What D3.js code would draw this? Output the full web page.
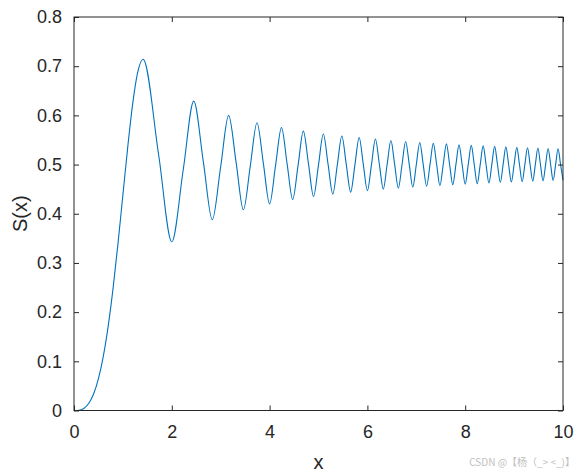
<!DOCTYPE html>
<html><head><meta charset="utf-8">
<script src="https://cdn.jsdelivr.net/npm/d3@7"></script>
<style>body{margin:0;background:#fff}svg{display:block}</style>
</head><body>
<script>
// Rising part of S(x)
const riseX = [0, 0.1, 0.2, 0.3, 0.4, 0.5, 0.6, 0.7, 0.8, 0.9, 1.0, 1.1, 1.2, 1.3];
const riseY = [0, 0.0005, 0.0042, 0.0141, 0.0334, 0.0647, 0.1105, 0.1721, 0.2493, 0.3398, 0.4383, 0.5365, 0.6234, 0.6863];
// Extrema (peaks and troughs) of S(x)
const extX = [1.414, 2.000, 2.449, 2.828, 3.162, 3.464, 3.742, 4.000, 4.243, 4.472,
  4.690, 4.899, 5.099, 5.292, 5.477, 5.657, 5.831, 6.000, 6.164, 6.325,
  6.481, 6.633, 6.782, 6.928, 7.071, 7.211, 7.348, 7.483, 7.616, 7.746,
  7.874, 8.000, 8.124, 8.246, 8.367, 8.485, 8.602, 8.718, 8.832, 8.944,
  9.055, 9.165, 9.274, 9.381, 9.487, 9.592, 9.695, 9.798, 9.899, 10.000];
const extY = [0.714, 0.343, 0.629, 0.388, 0.600, 0.408, 0.585, 0.420, 0.575, 0.429,
  0.568, 0.435, 0.562, 0.440, 0.558, 0.444, 0.555, 0.447, 0.552, 0.450,
  0.549, 0.452, 0.547, 0.454, 0.545, 0.456, 0.543, 0.457, 0.542, 0.459,
  0.540, 0.460, 0.539, 0.461, 0.538, 0.4625, 0.537, 0.4635, 0.536, 0.4644,
  0.535, 0.4653, 0.5343, 0.4661, 0.5336, 0.4668, 0.5328, 0.4675, 0.5322, 0.4682];
// Crossing points between extrema
const midX = [1.732, 2.236, 2.646, 3.000, 3.317, 3.606, 3.873, 4.123, 4.359, 4.583,
  4.796, 5.000, 5.196, 5.385, 5.568, 5.745, 5.916, 6.083, 6.245, 6.403,
  6.557, 6.708, 6.856, 7.000, 7.141, 7.280, 7.416, 7.550, 7.681, 7.810,
  7.937, 8.062, 8.185, 8.307, 8.426, 8.544, 8.660, 8.775, 8.888, 9.000,
  9.110, 9.220, 9.327, 9.434, 9.539, 9.644, 9.747, 9.849, 9.950];
const midY = [0.519, 0.491, 0.505, 0.496, 0.503, 0.498, 0.502, 0.499, 0.501, 0.499,
  0.501, 0.4995, 0.5005, 0.4995, 0.5005, 0.4995, 0.5005, 0.4995, 0.5005, 0.4996,
  0.5004, 0.4996, 0.5003, 0.4997, 0.5003, 0.4997, 0.5003, 0.4997, 0.5002, 0.4998,
  0.5002, 0.4998, 0.5002, 0.4998, 0.5002, 0.4998, 0.5002, 0.4998, 0.5001, 0.4999,
  0.5001, 0.4999, 0.5001, 0.4999, 0.5001, 0.4999, 0.5001, 0.4999, 0.5001];
const xTicks = [0, 2, 4, 6, 8, 10];
const yTicks = [0, 0.1, 0.2, 0.3, 0.4, 0.5, 0.6, 0.7, 0.8];
const xLabel = "x", yLabel = "S(x)";
const watermark = "CSDN @【杨（_> <_)】";

const data = [];
riseX.forEach((x, i) => data.push([x, riseY[i]]));
extX.forEach((x, i) => data.push([x, extY[i]]));
midX.forEach((x, i) => data.push([x, midY[i]]));
data.sort((a, b) => a[0] - b[0]);

const W = 582, H = 473;
const L = 74, R = 563, T = 17, B = 410.5;
const svg = d3.select("body").append("svg").attr("width", W).attr("height", H);
const x = d3.scaleLinear().domain([0, 10]).range([L, R]);
const y = d3.scaleLinear().domain([0, 0.8]).range([B, T]);
const font = "Liberation Sans, Arial, sans-serif";

svg.append("path").datum(data)
  .attr("fill", "none").attr("stroke", "#0072BD").attr("stroke-width", 1.1)
  .attr("d", d3.line().x(d => x(d[0])).y(d => y(d[1])).curve(d3.curveMonotoneX));

const ax = (g) => g.call(s => s.select(".domain").remove())
  .call(s => s.selectAll("line").attr("stroke", "#262626"))
  .call(s => s.selectAll("text").attr("fill", "#262626").style("font-family", font).style("font-size", "18px"));

svg.append("g").attr("transform", `translate(0,${B})`)
  .call(d3.axisBottom(x).tickValues(xTicks).tickSize(-5).tickPadding(15).tickFormat(d3.format("d"))).call(ax);
svg.append("g").attr("transform", `translate(0,${T})`)
  .call(d3.axisTop(x).tickValues(xTicks).tickSize(-5).tickFormat("")).call(ax);
svg.append("g").attr("transform", `translate(${L},0)`)
  .call(d3.axisLeft(y).tickValues(yTicks).tickSize(-5).tickPadding(12).tickFormat(d => d === 0 ? "0" : d3.format(".1f")(d))).call(ax);
svg.append("g").attr("transform", `translate(${R},0)`)
  .call(d3.axisRight(y).tickValues(yTicks).tickSize(-5).tickFormat("")).call(ax);

svg.append("rect").attr("x", L).attr("y", T).attr("width", R - L).attr("height", B - T)
  .attr("fill", "none").attr("stroke", "#262626").attr("stroke-width", 1);

svg.append("text").attr("x", (L + R) / 2).attr("y", 469).attr("text-anchor", "middle")
  .attr("fill", "#262626").style("font-family", font).style("font-size", "20px").text(xLabel);
svg.append("text").attr("transform", `translate(27,${(T + B) / 2}) rotate(-90)`).attr("text-anchor", "middle")
  .attr("fill", "#262626").style("font-family", font).style("font-size", "20px").text(yLabel);
svg.append("text").attr("x", 575).attr("y", 466).attr("text-anchor", "end")
  .attr("fill", "#c0c0c0").style("font-family", "Noto Sans CJK SC, sans-serif").style("font-size", "10px").text(watermark);
</script>
</body></html>
